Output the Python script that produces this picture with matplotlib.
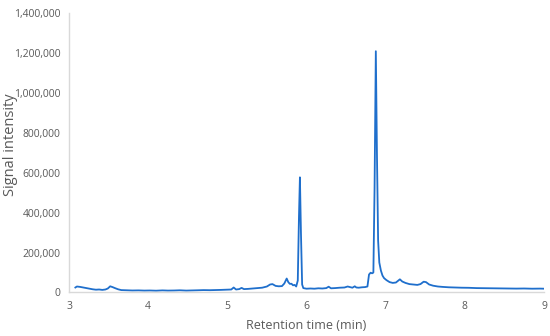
import matplotlib.pyplot as plt
from matplotlib.ticker import FuncFormatter

# retention time (min) and signal
time_min = [
    3.08, 3.10, 3.14, 3.18, 3.22, 3.26, 3.30, 3.34, 3.38, 3.42, 3.46, 3.49,
    3.52, 3.55, 3.58, 3.62, 3.66, 3.72, 3.80, 3.88, 3.95, 4.02, 4.10, 4.18,
    4.25, 4.33, 4.40, 4.48, 4.55, 4.62, 4.70, 4.78, 4.85, 4.92, 5.00, 5.05,
    5.08, 5.11, 5.15, 5.18, 5.21, 5.26, 5.32, 5.38, 5.44, 5.50, 5.54, 5.57,
    5.61, 5.65, 5.69, 5.72, 5.75, 5.77, 5.79, 5.81, 5.83, 5.85, 5.87, 5.89,
    5.905, 5.917, 5.93, 5.945, 5.96, 6.00, 6.05, 6.10, 6.15, 6.20, 6.25, 6.28,
    6.31, 6.36, 6.42, 6.48, 6.52, 6.55, 6.58, 6.61, 6.63, 6.66, 6.70, 6.74,
    6.77, 6.79, 6.81, 6.83, 6.845, 6.86, 6.876, 6.89, 6.905, 6.92, 6.94, 6.96,
    6.98, 7.01, 7.05, 7.09, 7.13, 7.16, 7.18, 7.21, 7.25, 7.30, 7.35, 7.40,
    7.44, 7.48, 7.51, 7.55, 7.60, 7.66, 7.72, 7.80, 7.88, 7.96, 8.05, 8.15,
    8.25, 8.35, 8.45, 8.55, 8.65, 8.75, 8.85, 8.95, 9.00,
]
signal = [
    25000, 30000, 28000, 25000, 22000, 19000, 16000, 14000, 15000, 13000, 15000, 20000,
    31000, 27000, 22000, 16000, 12000, 11000, 10000, 10500, 9500, 10000, 9000, 10500,
    9500, 10000, 11000, 9500, 10500, 11000, 12000, 11500, 12500, 13000, 14000, 15000,
    25000, 15000, 17000, 23000, 17000, 18000, 20000, 22000, 24000, 30000, 40000, 42000,
    33000, 31000, 32000, 45000, 70000, 52000, 43000, 44000, 36000, 38000, 30000, 60000,
    380000, 577000, 300000, 40000, 22000, 19000, 20000, 19000, 21000, 20000, 22000, 29000,
    21000, 22000, 24000, 25000, 30000, 27000, 24000, 31000, 25000, 24000, 26000, 27000,
    30000, 90000, 99000, 96000, 100000, 520000, 1209000, 700000, 260000, 150000, 110000, 85000,
    72000, 62000, 52000, 48000, 50000, 60000, 66000, 55000, 48000, 42000, 40000, 38000,
    42000, 54000, 52000, 40000, 34000, 30000, 28000, 26000, 25000, 24000, 23500, 22000,
    21500, 21000, 20000, 20500, 19500, 20000, 19000, 19500, 19000,
]

plt.rcParams["font.family"] = ["Open Sans", "DejaVu Sans"]
gray = "#595959"

fig = plt.figure(figsize=(5.5, 3.36), dpi=100)
ax = fig.add_axes([0.1255, 0.1295, 0.8635, 0.8315])
ax.plot(time_min, signal, color="#1f6fcc", linewidth=1.3)

ax.set_xlim(3, 9)
ax.set_ylim(0, 1400000)
ax.set_xticks(range(3, 10))
ax.set_yticks(range(0, 1400001, 200000))
ax.yaxis.set_major_formatter(FuncFormatter(lambda v, p: f"{int(v):,}"))
ax.tick_params(length=0, labelsize=7.5, colors=gray, pad=6)

for side in ["top", "right"]:
    ax.spines[side].set_visible(False)
for side in ["left", "bottom"]:
    ax.spines[side].set_color("#d9d9d9")
    ax.spines[side].set_linewidth(1.0)

ax.set_xlabel("Retention time (min)", fontsize=9, color=gray, labelpad=5)
ax.set_ylabel("Signal intensity", fontsize=10.5, color=gray)
ax.yaxis.set_label_coords(-0.107, 0.53)

fig.savefig("out.png", dpi=100)
